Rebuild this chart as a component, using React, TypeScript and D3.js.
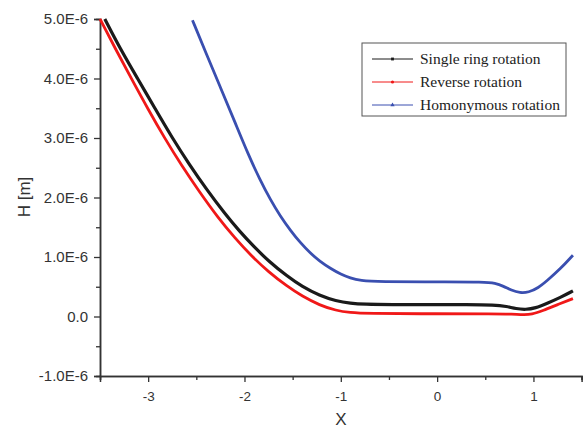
import React, { useRef, useEffect } from 'react'
import { select, scaleLinear, axisLeft, axisBottom, line, curveBasis, symbol, symbolSquare, symbolCircle, symbolTriangle } from 'd3'

// values in units of 1e-6 m
const singleX = [-3.45, -3.29, -3.11, -2.93, -2.75, -2.57, -2.4, -2.2, -2.05, -1.9, -1.75, -1.56, -1.4, -1.22, -1.05, -0.9, -0.75, -0.5, 0, 0.3, 0.6, 0.72, 0.82, 0.92, 1.02, 1.14, 1.28, 1.41]
const singleH = [5.0, 4.5, 4.0, 3.5, 3.0, 2.55, 2.15, 1.72, 1.43, 1.17, 0.93, 0.68, 0.5, 0.35, 0.26, 0.22, 0.205, 0.2, 0.2, 0.2, 0.195, 0.17, 0.13, 0.115, 0.14, 0.22, 0.32, 0.43]

const reverseX = [-3.5, -3.34, -3.175, -3.0, -2.83, -2.65, -2.47, -2.27, -2.1, -1.93, -1.75, -1.56, -1.4, -1.22, -1.05, -0.9, -0.75, 0, 0.6, 0.78, 0.9, 0.98, 1.1, 1.25, 1.41]
const reverseH = [5.0, 4.5, 4.0, 3.48, 3.0, 2.53, 2.1, 1.65, 1.32, 1.02, 0.75, 0.51, 0.34, 0.19, 0.1, 0.065, 0.05, 0.045, 0.045, 0.04, 0.03, 0.035, 0.1, 0.2, 0.3]

const homoX = [-2.54, -2.4, -2.25, -2.1, -1.96, -1.84, -1.73, -1.63, -1.52, -1.42, -1.32, -1.22, -1.1, -1.0, -0.9, -0.8, -0.6, 0, 0.5, 0.6, 0.69, 0.77, 0.86, 0.95, 1.05, 1.14, 1.28, 1.41]
const homoH = [4.98, 4.43, 3.85, 3.27, 2.72, 2.3, 1.96, 1.69, 1.44, 1.24, 1.07, 0.93, 0.8, 0.71, 0.645, 0.605, 0.585, 0.58, 0.58, 0.56, 0.51, 0.44, 0.395, 0.405, 0.48, 0.6, 0.8, 1.03]

const xTicks = [-3, -2, -1, 0, 1]
const xMinor = [-3.5, -2.5, -1.5, -0.5, 0.5, 1.5]
const yTicks = [-1, 0, 1, 2, 3, 4, 5]
const yMinor = [-0.5, 0.5, 1.5, 2.5, 3.5, 4.5]

const series = [
  { name: 'Single ring rotation', xs: singleX, ys: singleH, color: '#1a1a1a', sym: symbolSquare, w: 3.2 },
  { name: 'Reverse rotation', xs: reverseX, ys: reverseH, color: '#f01818', sym: symbolCircle, w: 2.8 },
  { name: 'Homonymous rotation', xs: homoX, ys: homoH, color: '#3a4fb0', sym: symbolTriangle, w: 2.8 },
]

function App() {
  const svgRef = useRef(null)

  useEffect(() => {
    const svg = select(svgRef.current)
    svg.selectAll('*').remove()

    const left = 100, right = 581.6, top = 19, bottom = 376
    const x = scaleLinear().domain([-3.5, 1.5]).range([left, right])
    const y = scaleLinear().domain([-1, 5]).range([bottom, top])
    const axisColor = '#333'
    const sans = '"Liberation Sans", Arial, sans-serif'

    // minor ticks
    const gyMinor = svg.append('g').attr('transform', `translate(${left},0)`)
      .call(axisLeft(y).tickValues(yMinor).tickSize(4).tickFormat(() => ''))
    const gxMinor = svg.append('g').attr('transform', `translate(0,${bottom})`)
      .call(axisBottom(x).tickValues(xMinor).tickSize(4).tickFormat(() => ''))

    const gy = svg.append('g').attr('transform', `translate(${left},0)`)
      .call(axisLeft(y).tickValues(yTicks).tickSize(6).tickPadding(6)
        .tickFormat(d => (d === 0 ? '0.0' : `${d.toFixed(1)}E-6`)))
    const gx = svg.append('g').attr('transform', `translate(0,${bottom})`)
      .call(axisBottom(x).tickValues(xTicks).tickSize(6).tickPadding(9).tickFormat(d => `${d}`))

    for (const g of [gyMinor, gxMinor, gy, gx]) {
      g.selectAll('path').attr('stroke', axisColor).attr('stroke-width', 1.5)
      g.selectAll('line').attr('stroke', axisColor).attr('stroke-width', 1.3)
      g.selectAll('text').attr('fill', '#333').style('font-family', sans)
    }
    gy.selectAll('text').style('font-size', '15px')
    gx.selectAll('text').style('font-size', '13.5px')

    // curves
    const plot = svg.append('g')
    series.forEach(s => {
      const pts = s.xs.map((v, i) => [v, s.ys[i]])
      const gen = line().x(d => x(d[0])).y(d => y(d[1])).curve(curveBasis)
      plot.append('path')
        .attr('d', gen(pts))
        .attr('fill', 'none')
        .attr('stroke', s.color)
        .attr('stroke-width', s.w)
        .attr('stroke-linejoin', 'round')
    })

    // axis titles
    svg.append('text')
      .attr('transform', `translate(30,${197}) rotate(-90)`)
      .attr('text-anchor', 'middle')
      .style('font-family', sans)
      .style('font-size', '17px')
      .attr('fill', '#333')
      .text('H [m]')
    svg.append('text')
      .attr('x', 341)
      .attr('y', 425)
      .attr('text-anchor', 'middle')
      .style('font-family', sans)
      .style('font-size', '17px')
      .attr('fill', '#333')
      .text('X')

    // legend
    const lg = svg.append('g').attr('transform', 'translate(362,43)')
    lg.append('rect').attr('width', 204).attr('height', 73)
      .attr('fill', 'white').attr('stroke', '#555').attr('stroke-width', 1)
    series.forEach((s, i) => {
      const cy = 16 + i * 23
      lg.append('line').attr('x1', 10).attr('x2', 51).attr('y1', cy).attr('y2', cy)
        .attr('stroke', s.color).attr('stroke-width', 1)
      lg.append('path').attr('d', symbol(s.sym, 8)())
        .attr('transform', `translate(30.5,${cy})`).attr('fill', s.color)
      lg.append('text').attr('x', 58).attr('y', cy + 5)
        .style('font-family', '"Liberation Serif", "Times New Roman", serif')
        .style('font-size', '15.5px')
        .attr('fill', '#222')
        .text(s.name)
    })
  }, [])

  return (
    <svg ref={svgRef} width="584" height="430" style={{ position: 'absolute', left: 0, top: 0, background: 'white' }}></svg>
  )
}

export default App
